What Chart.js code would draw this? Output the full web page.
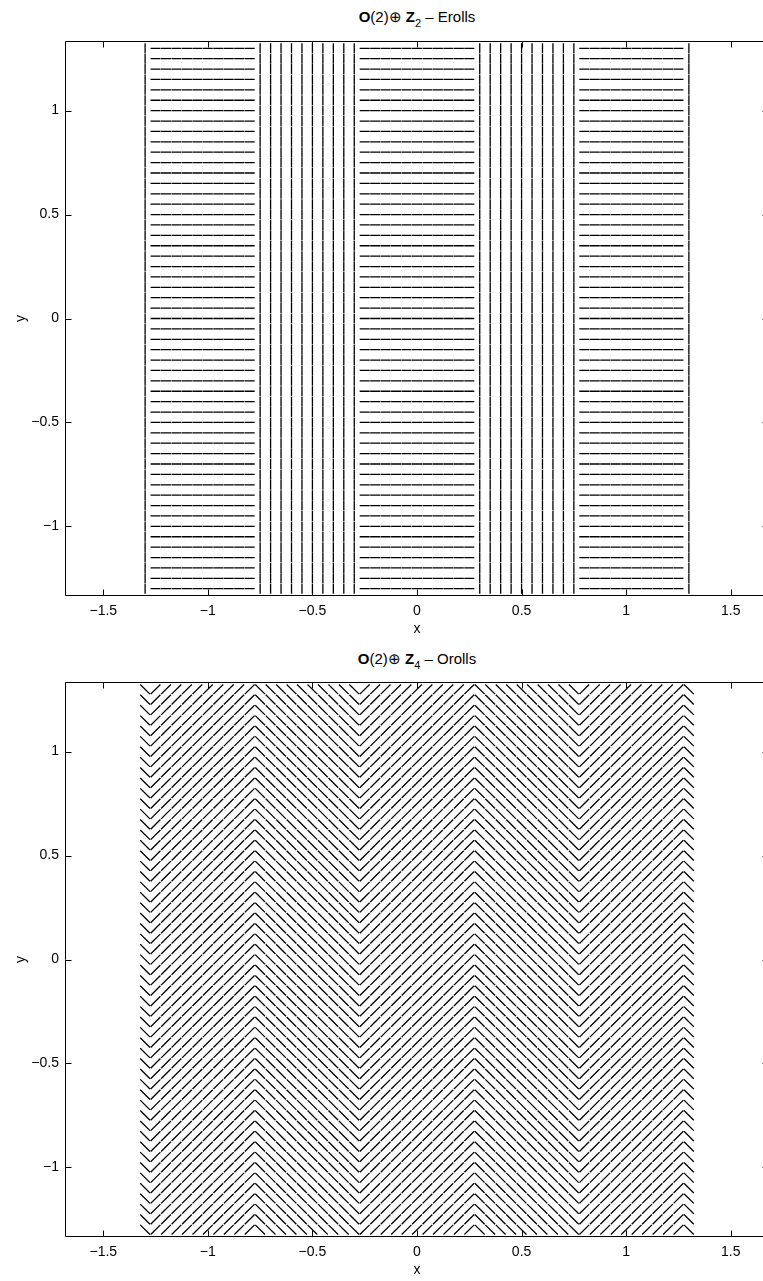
<!DOCTYPE html>
<html>
<head>
<meta charset="utf-8">
<script src="https://cdn.jsdelivr.net/npm/chart.js@4.4.0/dist/chart.umd.min.js"></script>
<style>
  html, body { margin: 0; padding: 0; background: #fff; overflow: hidden; }
  body { width: 763px; height: 1281px; position: relative; font-family: "Liberation Sans", Arial, sans-serif; }
  .panel { position: absolute; left: 0; width: 775px; height: 640px; }
  .ttl { position: absolute; left: 267px; width: 300px; text-align: center; font-size: 15px; line-height: 18px; color: #000; white-space: nowrap; }
  .ttl sub { font-size: 11px; line-height: 0; vertical-align: -5px; }
</style>
</head>
<body>
<div class="ttl" style="top:8px"><b>O</b>(2)⊕ <b>Z</b><sub>2</sub> – Erolls</div>
<div class="panel" style="top:0"><canvas id="top" width="775" height="640"></canvas></div>
<div class="ttl" style="top:650px"><b>O</b>(2)⊕ <b>Z</b><sub>4</sub> – Orolls</div>
<div class="panel" style="top:641px"><canvas id="bottom" width="775" height="640"></canvas></div>
<script>
// grid of the direction field (same in both panels)
const gridX = [-1.3, -1.25, -1.2, -1.15, -1.1, -1.05, -1, -0.95, -0.9, -0.85, -0.8,
  -0.75, -0.7, -0.65, -0.6, -0.55, -0.5, -0.45, -0.4, -0.35, -0.3,
  -0.25, -0.2, -0.15, -0.1, -0.05, 0, 0.05, 0.1, 0.15, 0.2, 0.25,
  0.3, 0.35, 0.4, 0.45, 0.5, 0.55, 0.6, 0.65, 0.7, 0.75,
  0.8, 0.85, 0.9, 0.95, 1, 1.05, 1.1, 1.15, 1.2, 1.25, 1.3];
const gridY = [-1.3, -1.25, -1.2, -1.15, -1.1, -1.05, -1, -0.95, -0.9, -0.85, -0.8,
  -0.75, -0.7, -0.65, -0.6, -0.55, -0.5, -0.45, -0.4, -0.35, -0.3,
  -0.25, -0.2, -0.15, -0.1, -0.05, 0, 0.05, 0.1, 0.15, 0.2, 0.25,
  0.3, 0.35, 0.4, 0.45, 0.5, 0.55, 0.6, 0.65, 0.7, 0.75,
  0.8, 0.85, 0.9, 0.95, 1, 1.05, 1.1, 1.15, 1.2, 1.25, 1.3];

// segment direction (degrees) for each column of gridX
const erollsAngle = [90,
  0, 0, 0, 0, 0, 0, 0, 0, 0, 0,
  90, 90, 90, 90, 90, 90, 90, 90, 90, 90,
  0, 0, 0, 0, 0, 0, 0, 0, 0, 0, 0,
  90, 90, 90, 90, 90, 90, 90, 90, 90, 90,
  0, 0, 0, 0, 0, 0, 0, 0, 0, 0,
  90];
const orollsAngle = [135,
  45, 45, 45, 45, 45, 45, 45, 45, 45, 45,
  135, 135, 135, 135, 135, 135, 135, 135, 135, 135,
  45, 45, 45, 45, 45, 45, 45, 45, 45, 45, 45,
  135, 135, 135, 135, 135, 135, 135, 135, 135, 135,
  45, 45, 45, 45, 45, 45, 45, 45, 45, 45,
  135];

const xTicks = [-1.5, -1, -0.5, 0, 0.5, 1, 1.5];
const yTicks = [-1, -0.5, 0, 0.5, 1];

const FONT = '"Liberation Sans", Arial, sans-serif';

// one short segment per grid point, separated by gaps
function segments(angles, half) {
  const pts = [];
  gridX.forEach((x, i) => {
    const a = angles[i] * Math.PI / 180;
    const dx = half * Math.cos(a), dy = half * Math.sin(a);
    gridY.forEach(y => {
      pts.push({x: x - dx, y: y - dy}, {x: x + dx, y: y + dy}, {x: x, y: null});
    });
  });
  return pts;
}

function fmt(v) {
  return String(v).replace('-', '\u2212');
}

// matlab style box with inward ticks
const boxTicks = {
  id: 'boxTicks',
  afterDraw(chart) {
    const {ctx, chartArea: a, scales} = chart;
    const L = Math.round(a.left) + 0.5, R = Math.round(a.right) - 0.5;
    const T = Math.round(a.top) + 0.5, B = Math.round(a.bottom) - 0.5;
    ctx.save();
    ctx.strokeStyle = '#000';
    ctx.lineWidth = 1;
    ctx.beginPath();
    xTicks.forEach(v => {
      const px = Math.round(scales.x.getPixelForValue(v)) + 0.5;
      ctx.moveTo(px, B); ctx.lineTo(px, B - 6);
      ctx.moveTo(px, T); ctx.lineTo(px, T + 6);
    });
    yTicks.forEach(v => {
      const py = Math.round(scales.y.getPixelForValue(v)) + 0.5;
      ctx.moveTo(L, py); ctx.lineTo(L + 6, py);
      ctx.moveTo(R, py); ctx.lineTo(R - 6, py);
    });
    ctx.rect(L, T, R - L, B - T);
    ctx.stroke();
    ctx.restore();
  }
};

function makeChart(id, angles, half) {
  new Chart(document.getElementById(id), {
    type: 'scatter',
    data: {
      datasets: [{
        data: segments(angles, half),
        showLine: true,
        spanGaps: false,
        borderColor: '#000',
        borderWidth: 1.3,
        pointRadius: 0,
        pointHoverRadius: 0
      }]
    },
    options: {
      responsive: false,
      animation: false,
      events: [],
      layout: { padding: { top: 41, right: 6, left: 0, bottom: 0 } },
      plugins: { legend: { display: false }, tooltip: { enabled: false }, title: { display: false } },
      scales: {
        x: {
          type: 'linear', min: -1.683, max: 1.683,
          afterBuildTicks: s => { s.ticks = xTicks.map(v => ({value: v})); },
          afterFit: s => { s.height = 44; },
          ticks: { callback: v => fmt(v), color: '#000', font: {family: FONT, size: 14}, padding: 7, maxRotation: 0, autoSkip: false },
          grid: { display: false, drawTicks: false },
          border: { display: false },
          title: { display: true, text: 'x', color: '#000', font: {family: FONT, size: 14}, padding: {top: 0, bottom: 2} }
        },
        y: {
          type: 'linear', min: -1.335, max: 1.335,
          afterBuildTicks: s => { s.ticks = yTicks.map(v => ({value: v})); },
          afterFit: s => { s.width = 65; },
          ticks: { callback: v => fmt(v), color: '#000', font: {family: FONT, size: 14}, padding: 6 },
          grid: { display: false, drawTicks: false },
          border: { display: false },
          title: { display: true, text: 'y', color: '#000', font: {family: FONT, size: 14}, padding: {top: 13, bottom: 0} }
        }
      }
    },
    plugins: [boxTicks]
  });
}

makeChart('top', erollsAngle, 0.024);
makeChart('bottom', orollsAngle, 0.033);
</script>
</body>
</html>
